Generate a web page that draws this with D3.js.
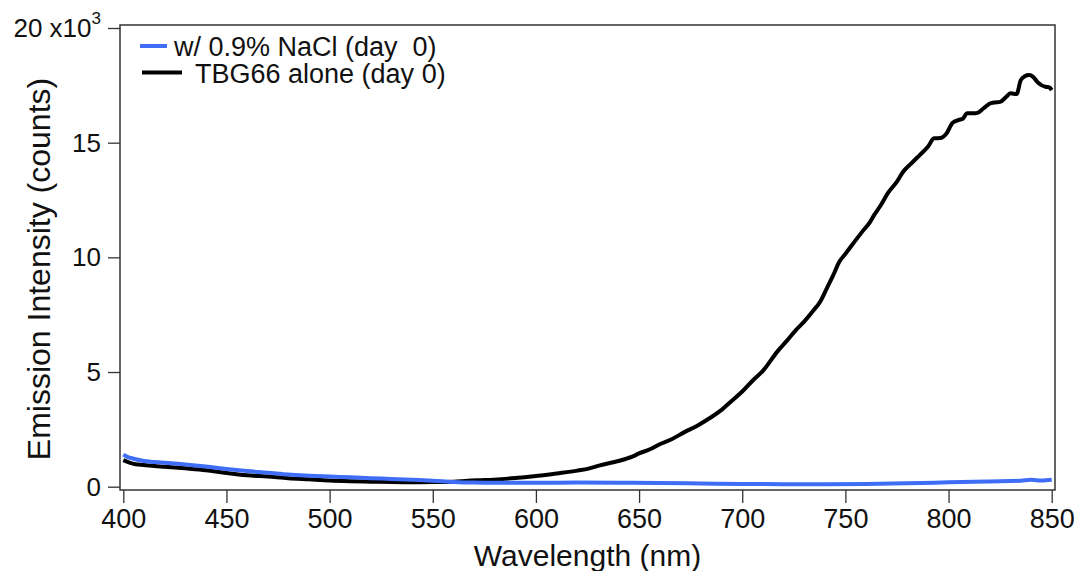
<!DOCTYPE html>
<html>
<head>
<meta charset="utf-8">
<script src="https://cdn.jsdelivr.net/npm/d3@7"></script>
<style>
  html, body { margin: 0; padding: 0; background: #fff; }
  svg { display: block; font-family: "Liberation Sans", Arial, Helvetica, sans-serif; }
</style>
</head>
<body>
<svg id="chart" width="1076" height="571"></svg>
<script>
// Emission spectra: wavelength (nm) vs. intensity (thousands of counts)
const tbgWavelength = [400, 403, 406, 410, 415, 420, 430, 440, 450, 460, 470, 480, 490, 500, 510, 520, 530, 540, 550, 560,
  567, 575, 583, 590, 599, 610, 620, 626, 631, 640, 647, 650, 655, 660, 666, 672, 678, 683, 690, 695,
  700, 705, 710, 717, 722, 726, 730, 734, 738, 741, 744, 747, 750, 755, 758, 762, 764, 767, 771, 775, 778,
  782, 786, 790, 793, 796, 799, 802, 805, 807, 809, 812, 814, 817, 820, 822, 825, 828, 830, 833, 835,
  837, 839, 841, 843, 845, 847, 849, 850];
const tbgIntensity = [1.16, 1.05, 0.98, 0.95, 0.90, 0.87, 0.80, 0.72, 0.60, 0.50, 0.44, 0.37, 0.32, 0.27, 0.24, 0.22, 0.20, 0.19, 0.20, 0.22,
  0.26, 0.29, 0.33, 0.38, 0.46, 0.58, 0.70, 0.80, 0.93, 1.12, 1.32, 1.45, 1.62, 1.85, 2.08, 2.38, 2.65, 2.92, 3.35, 3.75,
  4.15, 4.62, 5.05, 5.89, 6.40, 6.83, 7.20, 7.63, 8.10, 8.65, 9.20, 9.80, 10.15, 10.75, 11.10, 11.55, 11.85, 12.25, 12.85, 13.30, 13.73,
  14.10, 14.46, 14.82, 15.19, 15.20, 15.40, 15.87, 15.99, 16.05, 16.28, 16.28, 16.30, 16.50, 16.71, 16.75, 16.78, 17.00, 17.15, 17.12, 17.73,
  17.90, 17.95, 17.87, 17.65, 17.51, 17.44, 17.40, 17.29];

const naclWavelength = [400, 402, 405, 410, 415, 420, 430, 440, 450, 460, 470, 480, 490, 500, 510, 520, 530, 540, 550, 560,
  570, 580, 600, 620, 640, 660, 680, 700, 720, 740, 760, 780, 800, 820, 835, 840, 845, 850];
const naclIntensity = [1.40, 1.30, 1.22, 1.12, 1.08, 1.04, 0.97, 0.88, 0.77, 0.68, 0.61, 0.53, 0.48, 0.44, 0.41, 0.37, 0.34, 0.30, 0.26, 0.21,
  0.18, 0.17, 0.17, 0.18, 0.17, 0.16, 0.14, 0.12, 0.11, 0.11, 0.12, 0.15, 0.19, 0.23, 0.26, 0.30, 0.27, 0.30];

const xTicks = [400, 450, 500, 550, 600, 650, 700, 750, 800, 850];
const yTicks = [0, 5, 10, 15, 20];

const seriesNames = ["w/ 0.9% NaCl (day  0)", "TBG66 alone (day 0)"];
const seriesColors = ["#3f6df6", "#000000"];

const svg = d3.select("#chart");

// Frame box and data ranges (axes are offset slightly inside the frame)
const frame = { left: 120, right: 1055, top: 25, bottom: 490 };
const x = d3.scaleLinear().domain([400, 850]).range([123.3, 1051.7]);
const y = d3.scaleLinear().domain([0, 20]).range([486.7, 28]);

const tickFont = 27;

// X axis
const xAxis = svg.append("g")
  .attr("transform", `translate(0,${frame.bottom})`)
  .call(d3.axisBottom(x).tickValues(xTicks).tickSize(13).tickPadding(6).tickFormat(d3.format("d")));
xAxis.select(".domain").remove();
xAxis.selectAll(".tick line").attr("stroke", "#333").attr("stroke-width", 1.3);
xAxis.selectAll(".tick text").attr("font-size", tickFont).attr("fill", "#111");

// Y axis
const yAxis = svg.append("g")
  .attr("transform", `translate(${frame.left},0)`)
  .call(d3.axisLeft(y).tickValues(yTicks).tickSize(12).tickPadding(7).tickFormat(d3.format("d")));
yAxis.select(".domain").remove();
yAxis.selectAll(".tick line").attr("stroke", "#333").attr("stroke-width", 1.3);
yAxis.selectAll(".tick text").attr("font-size", tickFont - 1).attr("fill", "#111");
// Multiplier on the top label
yAxis.selectAll(".tick text").filter(d => d === 20)
  .text("20 x10")
  .append("tspan").attr("font-size", 17).attr("dy", "-0.75em").text("3");

// Frame
svg.append("rect")
  .attr("x", frame.left).attr("y", frame.top)
  .attr("width", frame.right - frame.left).attr("height", frame.bottom - frame.top)
  .attr("fill", "none").attr("stroke", "#333").attr("stroke-width", 1.5);

// Spectra
const line = d3.line().x(d => x(d[0])).y(d => y(d[1])).curve(d3.curveMonotoneX);
const tbgData = d3.zip(tbgWavelength, tbgIntensity);
const naclData = d3.zip(naclWavelength, naclIntensity);

svg.append("path").datum(tbgData)
  .attr("d", line).attr("fill", "none")
  .attr("stroke", seriesColors[1]).attr("stroke-width", 4).attr("stroke-linejoin", "round");
svg.append("path").datum(naclData)
  .attr("d", line).attr("fill", "none")
  .attr("stroke", seriesColors[0]).attr("stroke-width", 4).attr("stroke-linejoin", "round");

// Legend
const legend = svg.append("g");
const legendRows = [
  { name: seriesNames[0], color: seriesColors[0], x1: 140, x2: 167, tx: 174, ly: 46, ty: 56 },
  { name: seriesNames[1], color: seriesColors[1], x1: 142, x2: 182, tx: 195, ly: 72.5, ty: 83 }
];
legendRows.forEach(r => {
  legend.append("line").attr("x1", r.x1).attr("x2", r.x2).attr("y1", r.ly).attr("y2", r.ly)
    .attr("stroke", r.color).attr("stroke-width", 4);
  legend.append("text").attr("x", r.tx).attr("y", r.ty)
    .attr("font-size", 27).attr("fill", "#111").style("white-space", "pre").text(r.name);
});

// Axis titles
svg.append("text")
  .attr("x", (frame.left + frame.right) / 2).attr("y", 566)
  .attr("text-anchor", "middle").attr("font-size", 30).attr("fill", "#111")
  .text("Wavelength (nm)");
svg.append("text")
  .attr("transform", "translate(50,269) rotate(-90)")
  .attr("text-anchor", "middle").attr("font-size", 32).attr("fill", "#111")
  .text("Emission Intensity (counts)");
</script>
</body>
</html>
